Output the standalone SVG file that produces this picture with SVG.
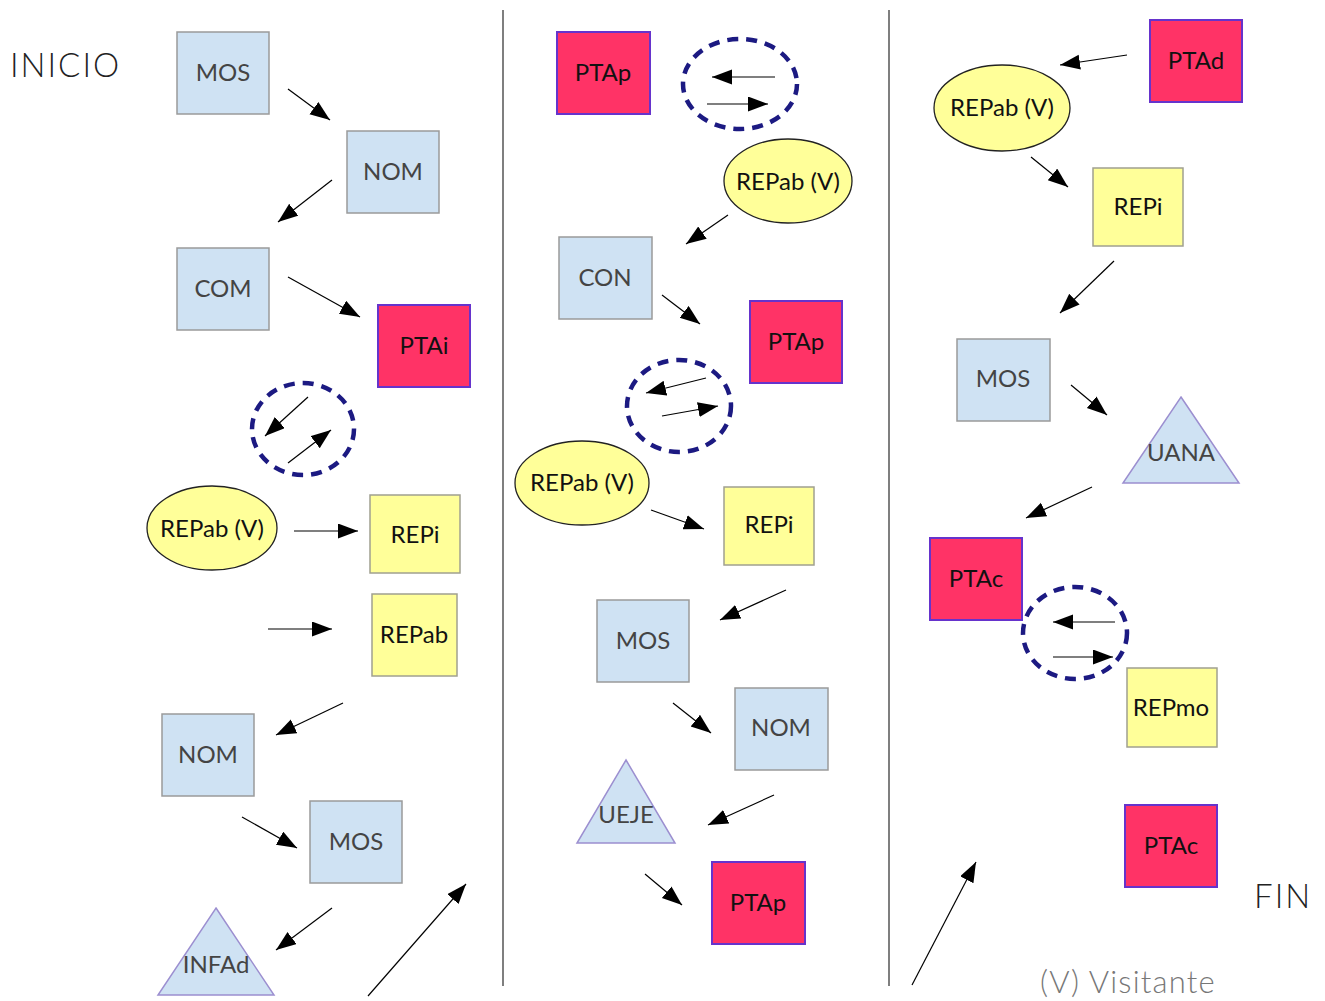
<svg xmlns="http://www.w3.org/2000/svg" width="1325" height="1001" viewBox="0 0 1325 1001">
  <defs>
    <marker id="ah" markerUnits="userSpaceOnUse" markerWidth="22" markerHeight="18" refX="20" refY="7.5" orient="auto">
      <path d="M0,0 L20,7.5 L0,15 Z" fill="#000"/>
    </marker>
    <style>
      .blue { fill: #cfe2f3; stroke: #9a9a9a; stroke-width: 1.5; }
      .red { fill: #ff3366; stroke: #6633cc; stroke-width: 2; }
      .yel { fill: #ffff99; stroke: #a0a090; stroke-width: 1.5; }
      .ell { fill: #ffff99; stroke: #222; stroke-width: 1.3; }
      .tri { fill: #cfe2f3; stroke: #9c8fd0; stroke-width: 1.5; }
      .ring { fill: none; stroke: #1c1a82; stroke-width: 4.5; stroke-dasharray: 11 8; }
      .lbl { font-family: Lato, "DejaVu Sans", sans-serif; font-size: 24px; fill: #444; text-anchor: middle; dominant-baseline: central; }
      .lbl2 { font-family: Lato, "DejaVu Sans", sans-serif; font-size: 24px; fill: #111; text-anchor: middle; dominant-baseline: central; }
      .big { font-family: Lato, "DejaVu Sans", sans-serif; font-weight: 300; font-size: 33px; fill: #222; letter-spacing: 2px; }
      .note { font-family: Lato, "DejaVu Sans", sans-serif; font-weight: 300; font-size: 31px; fill: #777; letter-spacing: 1.2px; }
      .sep { stroke: #555; stroke-width: 1.5; }
      #edges line { stroke: #000; stroke-width: 1.2; marker-end: url(#ah); }
    </style>
  </defs>
  <rect width="1325" height="1001" fill="#fff"/>

  <!-- column separators -->
  <line class="sep" x1="503" y1="10" x2="503" y2="986"/>
  <line class="sep" x1="889" y1="10" x2="889" y2="986"/>

  <text class="big" x="10" y="77">INICIO</text>
  <text class="big" x="1254" y="908">FIN</text>
  <text class="note" x="1040" y="993">(V) Visitante</text>

  <!-- first column -->
  <g id="n1"><rect class="blue" x="177" y="32" width="92" height="82"/><text class="lbl" x="223" y="71">MOS</text></g>
  <g id="n2"><rect class="blue" x="347" y="131" width="92" height="82"/><text class="lbl" x="393" y="170">NOM</text></g>
  <g id="n3"><rect class="blue" x="177" y="248" width="92" height="82"/><text class="lbl" x="223" y="287">COM</text></g>
  <g id="n4"><rect class="red" x="378" y="305" width="92" height="82"/><text class="lbl2" x="424" y="344">PTAi</text></g>
  <g id="n5"><ellipse class="ring" cx="303" cy="429" rx="51" ry="46"/></g>
  <g id="n6"><ellipse class="ell" cx="212" cy="528" rx="65" ry="42"/><text class="lbl2" x="212" y="527">REPab (V)</text></g>
  <g id="n7"><rect class="yel" x="370" y="495" width="90" height="78"/><text class="lbl2" x="415" y="533">REPi</text></g>
  <g id="n8"><rect class="yel" x="372" y="594" width="85" height="82"/><text class="lbl2" x="414" y="633">REPab</text></g>
  <g id="n9"><rect class="blue" x="162" y="714" width="92" height="82"/><text class="lbl" x="208" y="753">NOM</text></g>
  <g id="n10"><rect class="blue" x="310" y="801" width="92" height="82"/><text class="lbl" x="356" y="840">MOS</text></g>
  <g id="n11"><polygon class="tri" points="216,908 274,995 158,995"/><text class="lbl" x="216" y="963">INFAd</text></g>

  <!-- second column -->
  <g id="n12"><rect class="red" x="557" y="32" width="93" height="82"/><text class="lbl2" x="603" y="71">PTAp</text></g>
  <g id="n13"><ellipse class="ring" cx="740" cy="84" rx="57" ry="45"/></g>
  <g id="n14"><ellipse class="ell" cx="788" cy="181" rx="64" ry="42"/><text class="lbl2" x="788" y="180">REPab (V)</text></g>
  <g id="n15"><rect class="blue" x="559" y="237" width="93" height="82"/><text class="lbl" x="605" y="276">CON</text></g>
  <g id="n16"><rect class="red" x="750" y="301" width="92" height="82"/><text class="lbl2" x="796" y="340">PTAp</text></g>
  <g id="n17"><ellipse class="ring" cx="679" cy="406" rx="52" ry="46"/></g>
  <g id="n18"><ellipse class="ell" cx="582" cy="483" rx="67" ry="42"/><text class="lbl2" x="582" y="481">REPab (V)</text></g>
  <g id="n19"><rect class="yel" x="724" y="487" width="90" height="78"/><text class="lbl2" x="769" y="523">REPi</text></g>
  <g id="n20"><rect class="blue" x="597" y="600" width="92" height="82"/><text class="lbl" x="643" y="639">MOS</text></g>
  <g id="n21"><rect class="blue" x="735" y="688" width="93" height="82"/><text class="lbl" x="781" y="726">NOM</text></g>
  <g id="n22"><polygon class="tri" points="626,760 675,843 577,843"/><text class="lbl" x="626" y="813">UEJE</text></g>
  <g id="n23"><rect class="red" x="712" y="862" width="93" height="82"/><text class="lbl2" x="758" y="901">PTAp</text></g>

  <!-- third column -->
  <g id="n24"><rect class="red" x="1150" y="20" width="92" height="82"/><text class="lbl2" x="1196" y="59">PTAd</text></g>
  <g id="n25"><ellipse class="ell" cx="1002" cy="108" rx="68" ry="43"/><text class="lbl2" x="1002" y="106">REPab (V)</text></g>
  <g id="n26"><rect class="yel" x="1093" y="168" width="90" height="78"/><text class="lbl2" x="1138" y="205">REPi</text></g>
  <g id="n27"><rect class="blue" x="957" y="339" width="93" height="82"/><text class="lbl" x="1003" y="377">MOS</text></g>
  <g id="n28"><polygon class="tri" points="1181,397 1239,483 1123,483"/><text class="lbl" x="1181" y="451">UANA</text></g>
  <g id="n29"><rect class="red" x="930" y="538" width="92" height="82"/><text class="lbl2" x="976" y="577">PTAc</text></g>
  <g id="n30"><ellipse class="ring" cx="1075" cy="633" rx="52" ry="46"/></g>
  <g id="n31"><rect class="yel" x="1127" y="668" width="90" height="79"/><text class="lbl2" x="1171" y="706">REPmo</text></g>
  <g id="n32"><rect class="red" x="1125" y="805" width="92" height="82"/><text class="lbl2" x="1171" y="844">PTAc</text></g>

  <!-- connectors -->
  <g id="edges">
    <line x1="288" y1="89" x2="330" y2="120"/>
    <line x1="332" y1="180" x2="278" y2="222"/>
    <line x1="288" y1="277" x2="360" y2="317"/>
    <line x1="308" y1="397" x2="265" y2="436"/>
    <line x1="288" y1="463" x2="331" y2="430"/>
    <line x1="294" y1="531" x2="358" y2="531"/>
    <line x1="268" y1="629" x2="332" y2="629"/>
    <line x1="343" y1="703" x2="276" y2="735"/>
    <line x1="242" y1="817" x2="297" y2="848"/>
    <line x1="332" y1="908" x2="276" y2="950"/>
    <line x1="368" y1="996" x2="466" y2="884"/>

    <line x1="775" y1="77" x2="712" y2="77"/>
    <line x1="707" y1="104" x2="768" y2="104"/>
    <line x1="728" y1="215" x2="686" y2="244"/>
    <line x1="662" y1="295" x2="700" y2="324"/>
    <line x1="706" y1="378" x2="646" y2="393"/>
    <line x1="662" y1="416" x2="718" y2="406"/>
    <line x1="651" y1="510" x2="704" y2="529"/>
    <line x1="786" y1="590" x2="720" y2="620"/>
    <line x1="673" y1="703" x2="711" y2="733"/>
    <line x1="774" y1="795" x2="708" y2="825"/>
    <line x1="645" y1="874" x2="682" y2="905"/>

    <line x1="1127" y1="55" x2="1060" y2="65"/>
    <line x1="1031" y1="157" x2="1068" y2="187"/>
    <line x1="1114" y1="261" x2="1060" y2="313"/>
    <line x1="1071" y1="385" x2="1107" y2="415"/>
    <line x1="1092" y1="487" x2="1026" y2="518"/>
    <line x1="1115" y1="622" x2="1053" y2="622"/>
    <line x1="1053" y1="657" x2="1113" y2="657"/>
    <line x1="912" y1="985" x2="976" y2="862"/>
  </g>
</svg>
